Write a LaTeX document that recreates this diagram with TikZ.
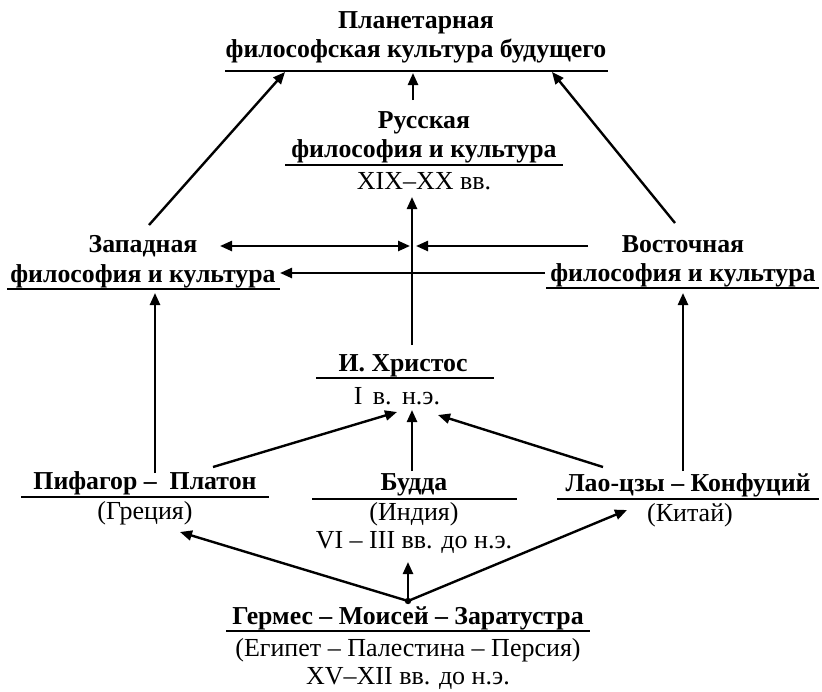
\documentclass[tikz,border=0pt]{standalone}
\usepackage{fontspec}
\setmainfont{Liberation Serif}
\usetikzlibrary{arrows.meta}
\begin{document}
\begin{tikzpicture}[x=1pt,y=-1pt,
  ttl/.style={font=\fontsize{25.8}{30}\selectfont\bfseries, anchor=base, inner sep=0pt},
  sub/.style={font=\fontsize{26}{30}\selectfont, anchor=base, inner sep=0pt},
  uline/.style={line width=1.4pt},
  conn/.style={line width=2.4pt, -{Triangle[length=12pt,width=10pt]}},
  dconn/.style={line width=2.4pt, {Triangle[length=12pt,width=10pt]}-{Triangle[length=12pt,width=10pt]}},
]
\useasboundingbox (0,0) rectangle (822,691);
% Planetary
\node[ttl] (plA) at (416,28) {Планетарная};
\node[ttl] (plB) at (416,57) {философская культура будущего};
\draw[uline] (225,71) -- (608,71);
% Russian
\node[ttl] (ruA) at (424,128) {Русская};
\node[ttl] (ruB) at (424,157) {философия и культура};
\draw[uline] (285,165) -- (563,165);
\node[sub] (ruC) at (424,189) {XIX–XX вв.};
% Western
\node[ttl] (wA) at (143,252) {Западная};
\node[ttl] (wB) at (143,282) {философия и культура};
\draw[uline] (7,289) -- (280,289);
% Eastern
\node[ttl] (eA) at (683,252) {Восточная};
\node[ttl] (eB) at (683,281) {философия и культура};
\draw[uline] (546,288) -- (819,288);
% Christ
\node[ttl] (chA) at (403,371) {И. Христос};
\draw[uline] (316,378) -- (494,378);
\node[sub] (chB) at (397,404) {I\hspace{0.4em}в.\hspace{0.4em}н.э.};
% Pythagoras
\node[ttl] (pyA) at (145,489) {Пифагор –\ \ Платон};
\draw[uline] (21,497) -- (269,497);
\node[sub] (pyB) at (145,519) {(Греция)};
% Buddha
\node[ttl] (buA) at (414,490) {Будда};
\draw[uline] (312,499) -- (517,499);
\node[sub] (buB) at (414,520) {(Индия)};
\node[sub] (buC) at (414,548) {VI – III вв. до н.э.};
% Lao
\node[ttl] (laA) at (688,491) {Лао-цзы – Конфуций};
\draw[uline] (557,499) -- (819,499);
\node[sub] (laB) at (690,521) {(Китай)};
% Hermes
\node[ttl] (heA) at (408,624) {Гермес – Моисей – Заратустра};
\draw[uline] (226,631) -- (590,631);
\node[sub] (heB) at (408,656) {(Египет – Палестина – Персия)};
\node[sub] (heC) at (408,684) {XV–XII вв. до н.э.};
% coordinates
\coordinate (wTop) at (149,225);
\coordinate (plL) at (285,72);
\coordinate (eTop) at (675,223);
\coordinate (plR) at (552,72);
\coordinate (ruTop) at (413,100);
\coordinate (plM) at (413,73);
\coordinate (chTop) at (412,345);
\coordinate (ruBot) at (412,197);
\coordinate (hL) at (220,246);
\coordinate (hM) at (410,246);
\coordinate (hR1) at (588,246);
\coordinate (hR2) at (416,246);
\coordinate (lR) at (545,273);
\coordinate (lL) at (280,273);
\coordinate (pyTop) at (155,473);
\coordinate (wBot) at (155,293);
\coordinate (laTop) at (683,471);
\coordinate (eBot) at (683,293);
\coordinate (pyR) at (213,467);
\coordinate (chL) at (397,412);
\coordinate (buTop) at (412,471);
\coordinate (chM) at (412,410);
\coordinate (laL) at (603,467);
\coordinate (chR) at (438,415);
\coordinate (dotP) at (408,601);
\coordinate (grT) at (180,532);
\coordinate (kiT) at (627,510);
\coordinate (inT) at (408,562);
% arrows
\draw[conn] (wTop) -- (plL);
\draw[conn] (eTop) -- (plR);
\draw[conn] (ruTop) -- (plM);
\draw[conn] (chTop) -- (ruBot);
\draw[dconn] (hL) -- (hM);
\draw[conn] (hR1) -- (hR2);
\draw[conn] (lR) -- (lL);
\draw[conn] (pyTop) -- (wBot);
\draw[conn] (laTop) -- (eBot);
\draw[conn] (pyR) -- (chL);
\draw[conn] (buTop) -- (chM);
\draw[conn] (laL) -- (chR);
\draw[conn] (dotP) -- (grT);
\draw[conn] (dotP) -- (kiT);
\draw[conn] (dotP) -- (inT);
\fill (dotP) circle (3.2pt);
\end{tikzpicture}
\end{document}
